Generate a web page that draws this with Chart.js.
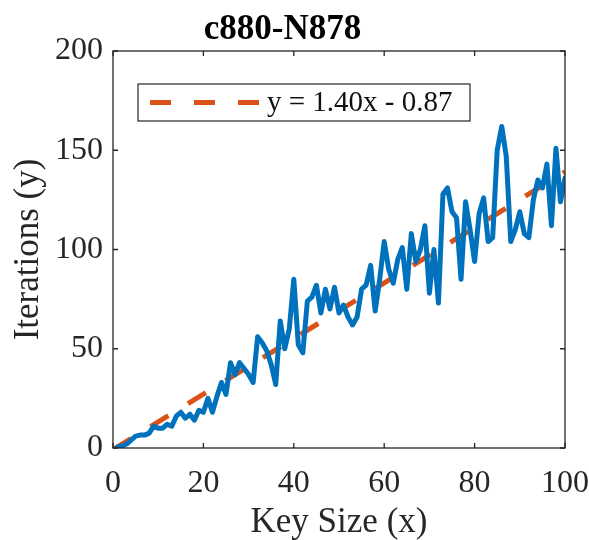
<!DOCTYPE html>
<html>
<head>
<meta charset="utf-8">
<script src="https://cdn.jsdelivr.net/npm/chart.js@4"></script>
<style>
  html, body { margin: 0; padding: 0; background: #fff; }
  #wrap { width: 589px; height: 540px; }
</style>
</head>
<body>
<div id="wrap"><canvas id="iterChart" width="589" height="540"></canvas></div>
<script>
const keySizes = [1, 2, 3, 4, 5, 6, 7, 8, 9, 10,
    11, 12, 13, 14, 15, 16, 17, 18, 19, 20,
    21, 22, 23, 24, 25, 26, 27, 28, 29, 30,
    31, 32, 33, 34, 35, 36, 37, 38, 39, 40,
    41, 42, 43, 44, 45, 46, 47, 48, 49, 50,
    51, 52, 53, 54, 55, 56, 57, 58, 59, 60,
    61, 62, 63, 64, 65, 66, 67, 68, 69, 70,
    71, 72, 73, 74, 75, 76, 77, 78, 79, 80,
    81, 82, 83, 84, 85, 86, 87, 88, 89, 90,
    91, 92, 93, 94, 95, 96, 97, 98, 99, 100];
const iterations = [0.5, 1, 2, 4, 6, 6.5, 6.5, 7.5, 11, 10,
    10, 12, 11, 16, 18, 15, 17, 14, 19, 18,
    25, 18, 26, 33, 27, 43, 37, 43, 40, 37,
    33, 56, 53, 49, 42, 32, 64, 50, 60, 85,
    52, 48, 74, 76, 82, 68, 80, 70, 81, 68,
    72, 66, 62, 66, 80, 82, 92, 69, 85, 104,
    90, 83, 95, 101, 80, 108, 94, 100, 112, 78,
    100, 73, 128, 131, 119, 116, 85, 124, 110, 94,
    118, 126, 104, 106, 150, 162, 147, 104, 110, 119,
    108, 106, 125, 135, 131, 143, 112, 151, 124, 136];
const fitX = [0, 100];
const fitY = [-0.87, 139.13];
const fitLabel = 'y = 1.40x - 0.87';
const xTicks = [0, 20, 40, 60, 80, 100];
const yTicks = [0, 50, 100, 150, 200];

const serif = '"Liberation Serif", "Times New Roman", serif';
const axisColor = '#262626';

// box round the plot, with MATLAB style ticks pointing inward
const boxPlugin = {
    id: 'boxPlugin',
    afterDatasetsDraw(chart) {
        const { ctx, chartArea: a, scales } = chart;
        ctx.save();
        ctx.strokeStyle = axisColor;
        ctx.lineWidth = 1.3;
        ctx.strokeRect(a.left, a.top, a.right - a.left, a.bottom - a.top);
        ctx.beginPath();
        xTicks.forEach(v => {
            const px = scales.x.getPixelForValue(v);
            ctx.moveTo(px, a.bottom); ctx.lineTo(px, a.bottom - 5);
            ctx.moveTo(px, a.top); ctx.lineTo(px, a.top + 5);
        });
        yTicks.forEach(v => {
            const py = scales.y.getPixelForValue(v);
            ctx.moveTo(a.left, py); ctx.lineTo(a.left + 5, py);
            ctx.moveTo(a.right, py); ctx.lineTo(a.right - 5, py);
        });
        ctx.stroke();
        ctx.restore();
    }
};

// legend box inside the plot, top left
const legendBox = {
    id: 'legendBox',
    afterDraw(chart) {
        const { ctx, chartArea: a } = chart;
        const ds = chart.data.datasets[1];
        const x0 = a.left + 25, y0 = a.top + 33, w = 332, h = 37;
        ctx.save();
        ctx.fillStyle = '#fff';
        ctx.fillRect(x0, y0, w, h);
        ctx.strokeStyle = axisColor;
        ctx.lineWidth = 1.2;
        ctx.strokeRect(x0, y0, w, h);
        ctx.strokeStyle = ds.borderColor;
        ctx.lineWidth = 5;
        ctx.setLineDash(ds.borderDash);
        ctx.beginPath();
        ctx.moveTo(x0 + 12, y0 + h / 2);
        ctx.lineTo(x0 + 124, y0 + h / 2);
        ctx.stroke();
        ctx.setLineDash([]);
        ctx.fillStyle = '#111';
        ctx.font = '29px ' + serif;
        ctx.textBaseline = 'middle';
        ctx.fillText(ds.label, x0 + 129, y0 + h / 2 + 1);
        ctx.restore();
    }
};

const ctx = document.getElementById('iterChart').getContext('2d');

new Chart(ctx, {
    type: 'line',
    data: {
        datasets: [{
            label: 'Iterations',
            data: keySizes.map((k, i) => ({ x: k, y: iterations[i] })),
            borderColor: '#0072BD',
            borderWidth: 5,
            pointRadius: 0,
            tension: 0,
            borderJoinStyle: 'round',
            borderCapStyle: 'round'
        }, {
            label: fitLabel,
            data: fitX.map((k, i) => ({ x: k, y: fitY[i] })),
            borderColor: '#D95319',
            borderWidth: 5,
            borderDash: [21, 23],
            pointRadius: 0,
            tension: 0
        }]
    },
    options: {
        responsive: false,
        animation: false,
        layout: {
            padding: { left: 0, right: 24, top: 0, bottom: 0 }
        },
        plugins: {
            legend: { display: false },
            tooltip: { enabled: false },
            title: {
                display: true,
                text: 'c880-N878',
                color: '#000',
                font: { family: serif, size: 35, weight: 'bold', lineHeight: 1.2 },
                padding: { top: 9, bottom: 0 }
            }
        },
        scales: {
            x: {
                type: 'linear',
                min: 0,
                max: 100,
                afterFit(s) { s.height = 92; s.paddingLeft = 0; s.paddingRight = 0; },
                afterBuildTicks(s) { s.ticks = xTicks.map(v => ({ value: v })); },
                grid: { display: false, drawTicks: false },
                border: { display: false },
                ticks: {
                    color: '#262626',
                    font: { family: serif, size: 32 },
                    padding: 16,
                    maxRotation: 0
                },
                title: {
                    display: true,
                    text: 'Key Size (x)',
                    color: '#262626',
                    font: { family: serif, size: 35, lineHeight: 1.0 },
                    padding: { top: 0, bottom: 0 }
                }
            },
            y: {
                type: 'linear',
                min: 0,
                max: 200,
                afterFit(s) { s.width = 113; s.paddingTop = 0; s.paddingBottom = 0; },
                afterBuildTicks(s) { s.ticks = yTicks.map(v => ({ value: v })); },
                grid: { display: false, drawTicks: false },
                border: { display: false },
                ticks: {
                    color: '#262626',
                    font: { family: serif, size: 32 },
                    padding: 10
                },
                title: {
                    display: true,
                    text: 'Iterations (y)',
                    color: '#262626',
                    font: { family: serif, size: 35, lineHeight: 1.2 },
                    padding: { top: 8, bottom: 0 }
                }
            }
        }
    },
    plugins: [boxPlugin, legendBox]
});
</script>
</body>
</html>
